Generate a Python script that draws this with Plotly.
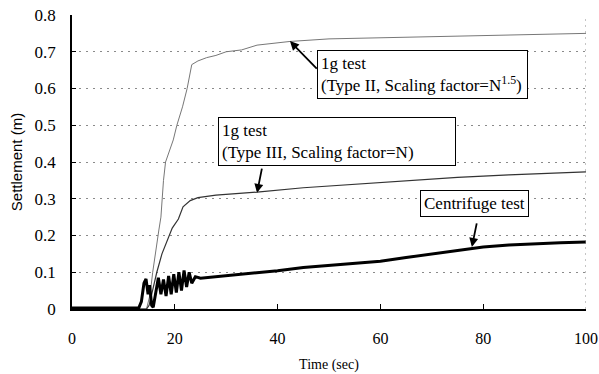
import plotly.graph_objects as go

# ---- data ----
type2_x = [0, 10, 14.5, 15.2, 15.7, 16.9, 17.3, 17.8, 18.2, 19.7, 20.4, 21.5, 22.4, 23.3, 24.5,
           26.2, 28, 30, 33, 36, 42.4, 50, 60, 70, 80, 90, 100]
type2_y = [0, 0, 0, 0.04, 0.1, 0.215, 0.25, 0.35, 0.4, 0.46, 0.5, 0.55, 0.6, 0.665, 0.675,
           0.684, 0.69, 0.70, 0.705, 0.718, 0.728, 0.735, 0.738, 0.742, 0.745, 0.748, 0.75]

type3_x = [0, 10, 14.5, 15, 16, 16.5, 17.5, 18.7, 19.5, 20.7, 21.6, 23, 24.5, 28, 36, 45, 55,
           65, 75, 85, 100]
type3_y = [0, 0, 0, 0.01, 0.07, 0.1, 0.15, 0.19, 0.22, 0.245, 0.278, 0.295, 0.303, 0.31, 0.318,
           0.33, 0.34, 0.35, 0.358, 0.365, 0.373]

cent_x = [0, 5, 10, 13, 13.5, 14.0, 14.4, 14.8, 15.1, 15.5, 15.8, 16.3, 16.8, 17.3, 17.8, 18.3,
          18.8, 19.3, 19.8, 20.3, 20.8, 21.3, 21.8, 22.3, 22.8, 23.3, 24, 25, 28, 32, 36, 40, 45,
          50, 55, 60, 65, 70, 75, 80, 85, 90, 95, 100]
cent_y = [0.003, 0.003, 0.002, 0.003, 0.02, 0.07, 0.082, 0.04, 0.065, 0.01, 0.005, 0.05, 0.085,
          0.04, 0.08, 0.035, 0.09, 0.04, 0.095, 0.045, 0.1, 0.05, 0.105, 0.06, 0.1, 0.07, 0.088,
          0.084, 0.088, 0.093, 0.098, 0.104, 0.113, 0.118, 0.123, 0.13, 0.14, 0.15, 0.16, 0.169,
          0.174, 0.178, 0.18, 0.182]

x_ticks = [0, 20, 40, 60, 80, 100]
y_ticks = [0, 0.1, 0.2, 0.3, 0.4, 0.5, 0.6, 0.7, 0.8]
y_tick_labels = ["0", "0.1", "0.2", "0.3", "0.4", "0.5", "0.6", "0.7", "0.8"]

label_2 = "1g test<br>(Type II, Scaling factor=N<sup>1.5</sup>)"
label_3 = "1g test<br>(Type III, Scaling factor=N)"
label_c = "Centrifuge test"

SERIF = "Liberation Serif, Times New Roman, serif"

fig = go.Figure()
fig.add_trace(go.Scatter(x=type2_x, y=type2_y, mode="lines",
                         line=dict(color="#777777", width=1), showlegend=False))
fig.add_trace(go.Scatter(x=type3_x, y=type3_y, mode="lines",
                         line=dict(color="#333333", width=1.2), showlegend=False))
fig.add_trace(go.Scatter(x=cent_x, y=cent_y, mode="lines",
                         line=dict(color="black", width=3), showlegend=False))

# right frame (dotted)
fig.add_shape(type="line", xref="x", yref="y", x0=100, x1=100, y0=0, y1=0.8,
              line=dict(color="#8a8a8a", width=1, dash="2px,4px"))

# text boxes
box_style = dict(showarrow=False, xanchor="left", yanchor="top", align="left",
                 bordercolor="black", borderwidth=1, borderpad=3, bgcolor="white",
                 font=dict(family=SERIF, size=17, color="black"))
fig.add_annotation(x=47.7, y=0.705, text=label_2, width=203, **box_style)
fig.add_annotation(x=28.4, y=0.522, text=label_3, width=230, **box_style)
fig.add_annotation(x=67.7, y=0.324, text=label_c, width=101, **box_style)

# arrows
arrow_style = dict(text="", showarrow=True, arrowhead=2, arrowsize=1, arrowwidth=1.8,
                   arrowcolor="black", axref="x", ayref="y")
fig.add_annotation(x=42.4, y=0.729, ax=47.9, ay=0.65, **arrow_style)
fig.add_annotation(x=36.0, y=0.316, ax=37.0, ay=0.386, **arrow_style)
fig.add_annotation(x=77.8, y=0.169, ax=78.8, ay=0.237, **arrow_style)

fig.update_xaxes(range=[0, 100], tickvals=x_ticks, ticks="inside", ticklen=5, tickcolor="black",
                 showline=True, linecolor="black", linewidth=1.5, showgrid=False, zeroline=False,
                 ticklabelstandoff=14, automargin=False,
                 tickfont=dict(family=SERIF, size=16, color="black"),
                 title=dict(text="Time (sec)", font=dict(family=SERIF, size=14, color="black"),
                            standoff=13))
fig.update_yaxes(range=[0, 0.8], tickvals=y_ticks, ticktext=y_tick_labels, ticks="inside",
                 ticklen=4, tickcolor="black",
                 showline=True, linecolor="black", linewidth=1.5, showgrid=True,
                 gridcolor="#8a8a8a", griddash="2px,5px", gridwidth=1, zeroline=False,
                 ticklabelstandoff=11, automargin=False,
                 tickfont=dict(family=SERIF, size=17, color="black"),
                 title=dict(text="Settlement (m)",
                            font=dict(family="Liberation Sans, Arial, sans-serif", size=15,
                                      color="black"), standoff=8))

fig.update_layout(width=599, height=374, autosize=False,
                  margin=dict(l=72, r=13, t=15, b=65),
                  plot_bgcolor="white", paper_bgcolor="white")

fig.write_html("out.html")
